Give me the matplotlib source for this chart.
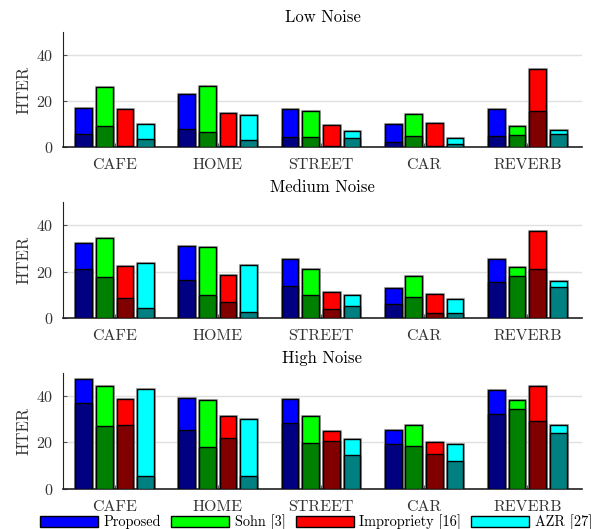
import matplotlib
matplotlib.use("Agg")
import matplotlib.pyplot as plt
import matplotlib.patheffects as pe
import numpy as np
from matplotlib.patches import Patch

plt.rcParams["font.family"] = ["cmr10", "DejaVu Serif"]
plt.rcParams["axes.formatter.use_mathtext"] = True
plt.rcParams["mathtext.fontset"] = "cm"

categories = ["CAFE", "HOME", "STREET", "CAR", "REVERB"]
methods = ["Proposed", "Sohn [3]", "Impropriety [16]", "AZR [27]"]
panel_titles = ["Low Noise", "Medium Noise", "High Noise"]

# total heights (bright bars) per method, per noise level
low_total = {
    "Proposed": [17.2, 23.0, 16.8, 10.3, 16.8],
    "Sohn [3]": [26.1, 26.7, 15.8, 14.3, 9.3],
    "Impropriety [16]": [16.8, 14.8, 9.7, 10.4, 34.1],
    "AZR [27]": [10.0, 13.9, 7.0, 4.1, 7.4],
}
low_inner = {
    "Proposed": [5.7, 8.0, 4.3, 2.2, 4.8],
    "Sohn [3]": [9.4, 6.5, 4.5, 4.9, 5.4],
    "Impropriety [16]": [0.7, 0.7, 0.6, 0.6, 15.9],
    "AZR [27]": [3.6, 3.0, 4.1, 1.3, 5.8],
}
med_total = {
    "Proposed": [32.2, 31.0, 25.4, 13.0, 25.6],
    "Sohn [3]": [34.7, 30.8, 21.1, 17.9, 22.1],
    "Impropriety [16]": [22.2, 18.5, 11.1, 10.3, 37.7],
    "AZR [27]": [23.7, 22.7, 10.0, 8.1, 15.9],
}
med_inner = {
    "Proposed": [21.2, 16.3, 13.9, 5.9, 15.5],
    "Sohn [3]": [17.8, 9.7, 9.8, 9.2, 18.1],
    "Impropriety [16]": [8.5, 6.8, 3.9, 2.0, 21.2],
    "AZR [27]": [4.2, 2.7, 5.3, 2.2, 13.3],
}
high_total = {
    "Proposed": [47.4, 39.0, 38.7, 25.4, 42.6],
    "Sohn [3]": [44.5, 38.3, 31.5, 27.4, 38.4],
    "Impropriety [16]": [38.8, 31.5, 25.0, 20.1, 44.3],
    "AZR [27]": [42.9, 30.0, 21.4, 19.4, 27.4],
}
high_inner = {
    "Proposed": [37.0, 25.4, 28.2, 19.2, 32.2],
    "Sohn [3]": [27.0, 17.8, 19.9, 18.6, 34.4],
    "Impropriety [16]": [27.7, 21.9, 20.6, 14.9, 29.2],
    "AZR [27]": [5.6, 5.3, 14.7, 12.1, 24.0],
}

bright = ["#0000ff", "#00ff00", "#ff0000", "#00ffff"]
dark = ["#000080", "#008000", "#800000", "#008080"]

panels = [(low_total, low_inner), (med_total, med_inner), (high_total, high_inner)]
axes_rects = [
    [0.105, 0.7215, 0.865, 0.218],
    [0.105, 0.399, 0.865, 0.219],
    [0.105, 0.0762, 0.865, 0.219],
]

fig = plt.figure(figsize=(6, 5.29), dpi=100)
x = np.arange(1, len(categories) + 1)
offsets = [-0.3, -0.1, 0.1, 0.3]
width = 0.162
halo = [pe.Stroke(linewidth=2.2, foreground="#b0b0b0"), pe.Normal()]

for (total, inner), rect, title in zip(panels, axes_rects, panel_titles):
    ax = fig.add_axes(rect)
    ax.set_axisbelow(True)
    ax.yaxis.grid(True, color="#e0e0e0", linewidth=1)
    for i, m in enumerate(methods):
        bars = ax.bar(x + offsets[i], total[m], width, color=bright[i],
                      edgecolor="black", linewidth=1, zorder=2)
        for b in bars:
            b.set_path_effects(halo)
        ax.bar(x + offsets[i], inner[m], width, color=dark[i],
               edgecolor="black", linewidth=1, zorder=3)
    ax.set_xlim(0.5, 5.53)
    ax.set_ylim(0, 50)
    ax.set_yticks([0, 20, 40])
    ax.set_xticks(x)
    ax.set_xticklabels(categories)
    ax.tick_params(axis="both", direction="in", length=3, color="#555555",
                   labelcolor="#333333", labelsize=11.5)
    ax.tick_params(axis="x", pad=8)
    ax.tick_params(axis="y", pad=7)
    for s in ["top", "right"]:
        ax.spines[s].set_visible(False)
    ax.spines["left"].set_color("#222222")
    ax.spines["bottom"].set_color("#222222")
    ax.spines["bottom"].set_linewidth(1.2)
    ax.set_ylabel("HTER", fontsize=12, color="#333333", labelpad=3)
    ax.set_title(title, fontsize=12, pad=7)

handles = [Patch(facecolor=bright[i], edgecolor="black", linewidth=1)
           for i in range(len(methods))]
fig.legend(handles, methods, loc="lower center", bbox_to_anchor=(0.527, -0.016),
           ncol=4, frameon=False, fontsize=10.3, handlelength=4.05,
           handleheight=0.84, handletextpad=0.4, columnspacing=0.7,
           borderpad=0)

fig.savefig("out.png", dpi=100)
